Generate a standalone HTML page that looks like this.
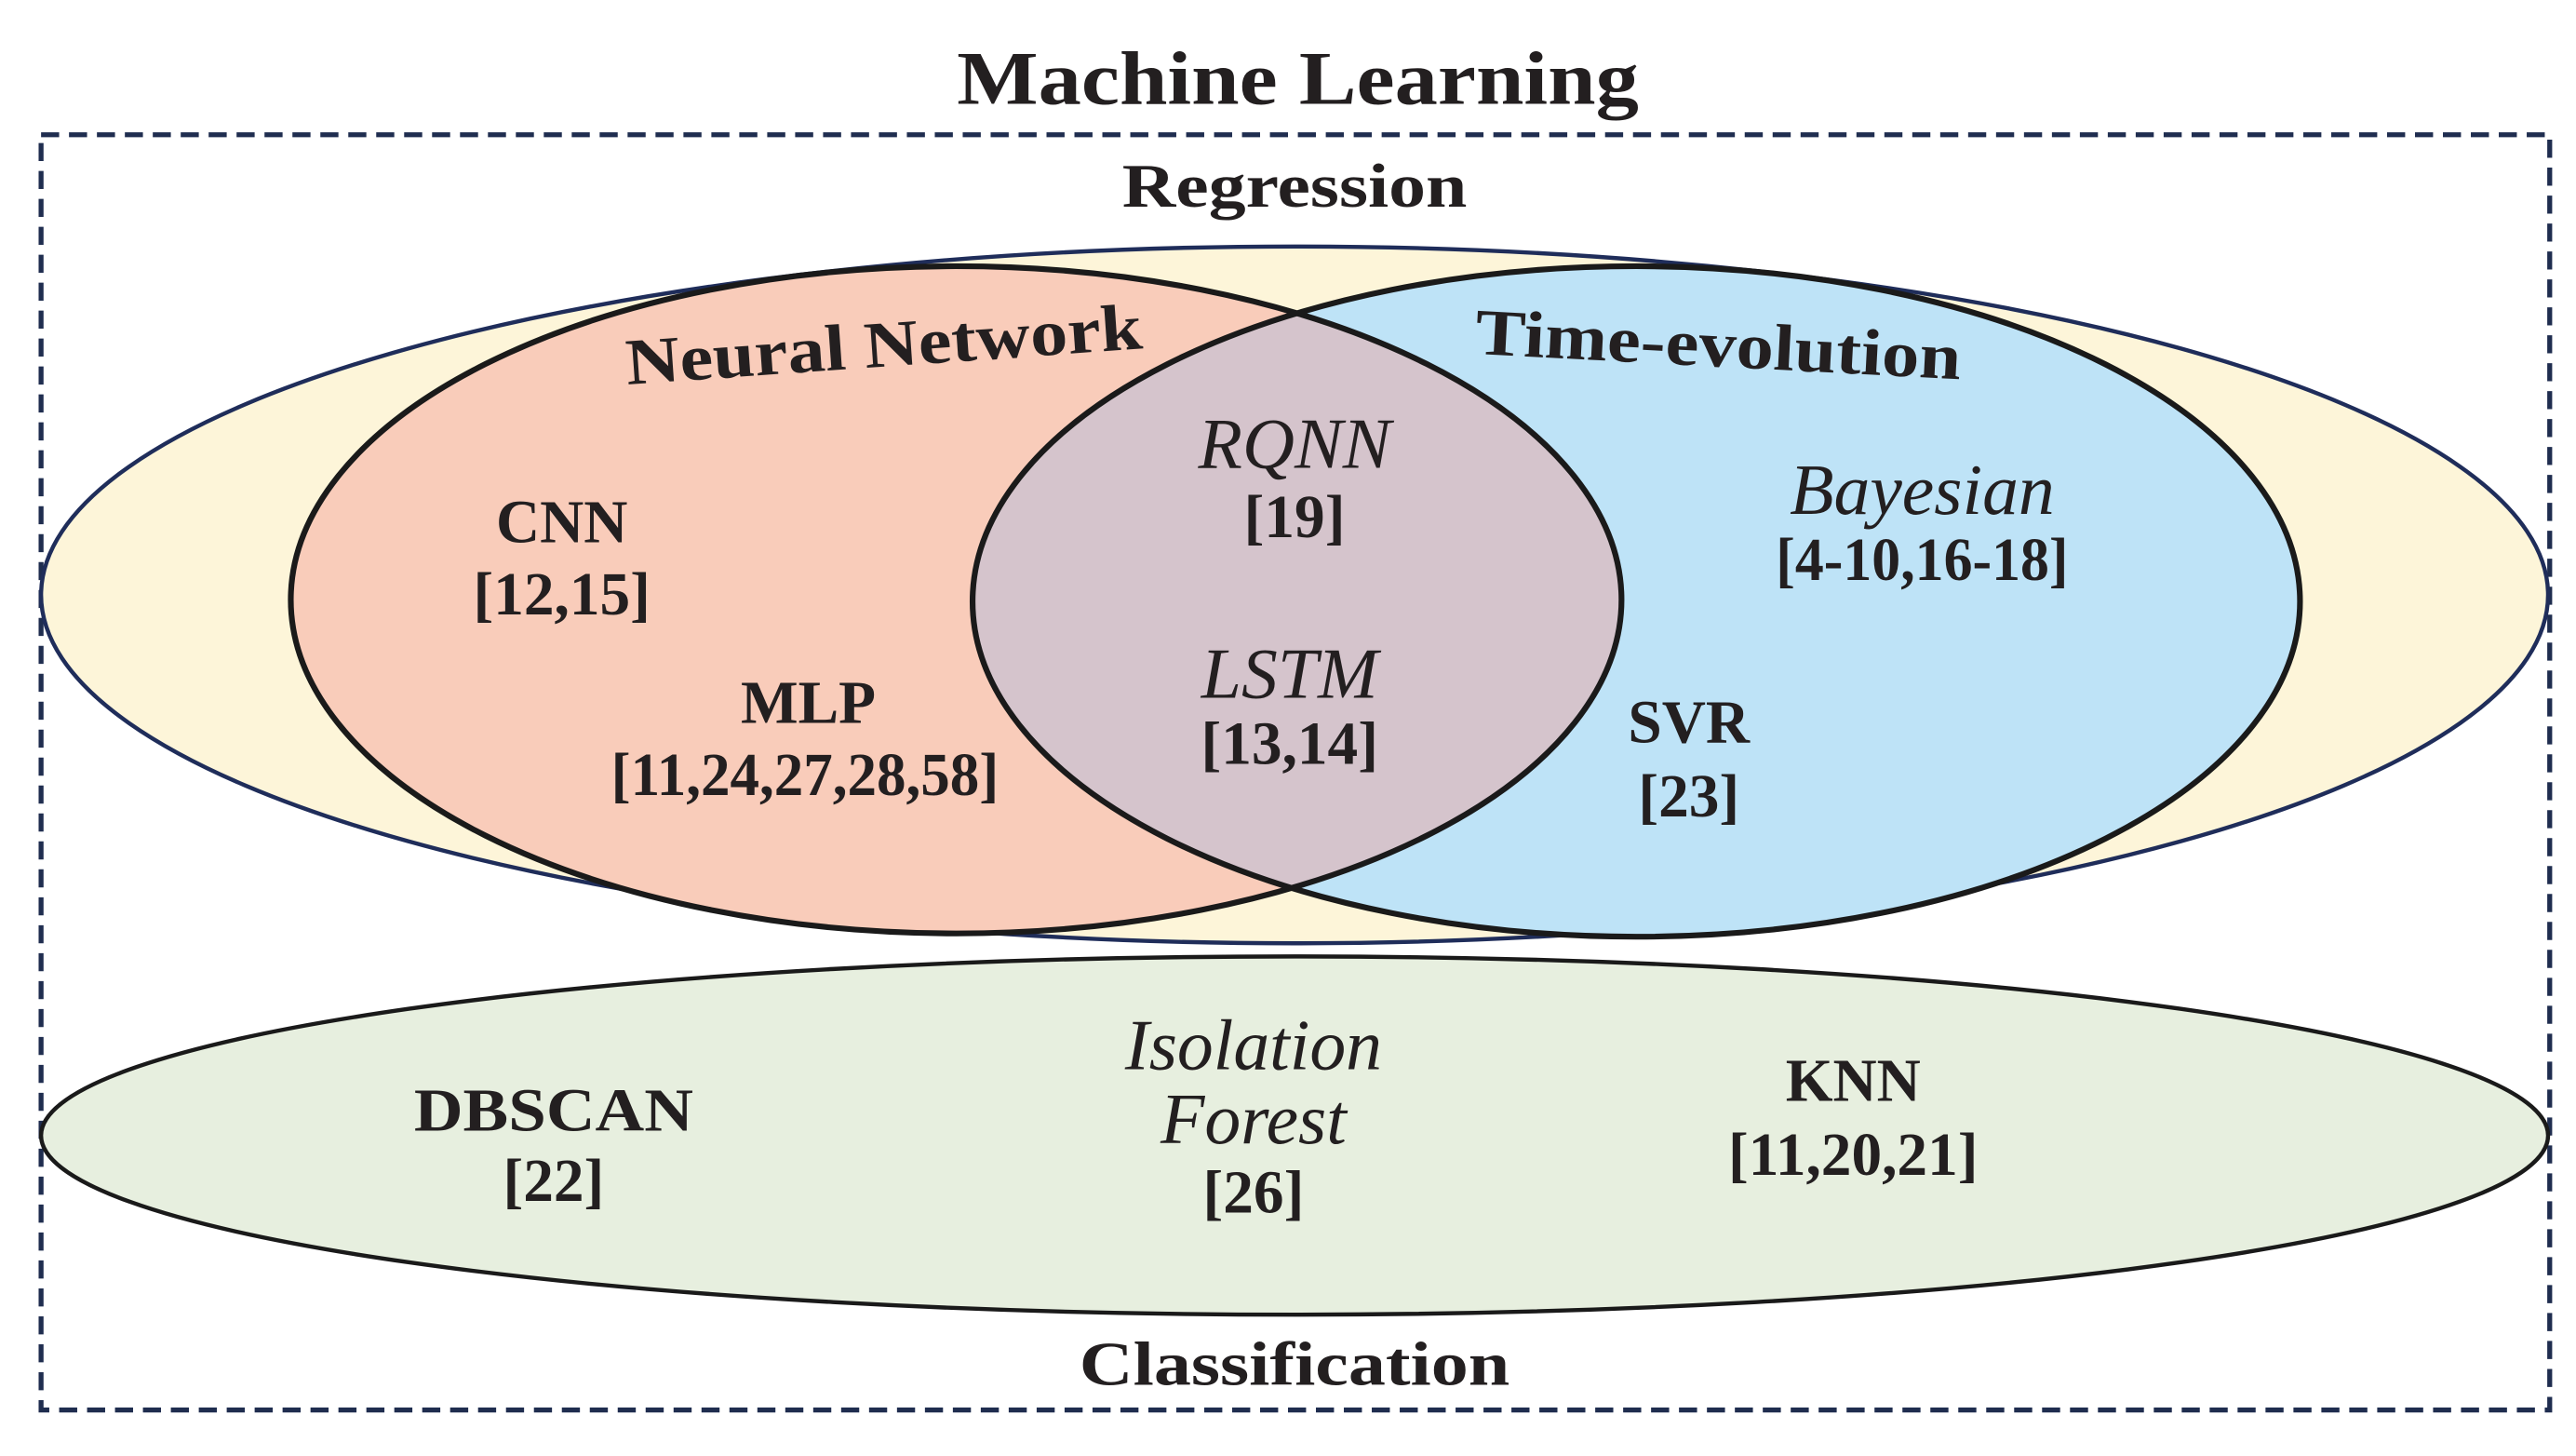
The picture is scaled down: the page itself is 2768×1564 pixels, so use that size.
<!DOCTYPE html>
<html><head><meta charset="utf-8"><style>
html,body{margin:0;padding:0;background:#fff;}
svg{display:block;}
text{font-family:"Liberation Serif",serif;fill:#231f20;}
</style></head><body>
<svg width="2768" height="1564" viewBox="0 0 1568 886" preserveAspectRatio="none" xmlns="http://www.w3.org/2000/svg">
<defs>
<clipPath id="cr"><ellipse cx="582" cy="365" rx="405" ry="203"/></clipPath>
</defs>
<text x="790" y="48" font-size="46" font-weight="bold" text-anchor="middle" dominant-baseline="central" textLength="415" lengthAdjust="spacingAndGlyphs">Machine Learning</text>
<rect x="25" y="82" width="1527" height="776" fill="none" stroke="#1f2d4f" stroke-width="3" stroke-dasharray="11 6"/>
<text x="788" y="113" font-size="38" font-weight="bold" text-anchor="middle" dominant-baseline="central" textLength="210" lengthAdjust="spacingAndGlyphs">Regression</text>
<ellipse cx="788" cy="362" rx="763" ry="212" fill="#fdf5d9" stroke="#1f2d5a" stroke-width="2.5"/>
<ellipse cx="582" cy="365" rx="405" ry="203" fill="#f9ccba"/>
<ellipse cx="996" cy="366" rx="404" ry="204" fill="#bee3f7"/>
<ellipse cx="996" cy="366" rx="404" ry="204" fill="#d5c4cc" clip-path="url(#cr)"/>
<ellipse cx="582" cy="365" rx="405" ry="203" fill="none" stroke="#1a1a1a" stroke-width="3.5"/>
<ellipse cx="996" cy="366" rx="404" ry="204" fill="none" stroke="#1a1a1a" stroke-width="3.5"/>
<ellipse cx="788" cy="691" rx="763" ry="109" fill="#e7efdf" stroke="#1a1a1a" stroke-width="2.5"/>
<text x="538" y="210" font-size="40" font-weight="bold" text-anchor="middle" dominant-baseline="central" transform="rotate(-4 538 210)" textLength="315" lengthAdjust="spacingAndGlyphs">Neural Network</text>
<text x="1046" y="210" font-size="40" font-weight="bold" text-anchor="middle" dominant-baseline="central" transform="rotate(3 1046 210)" textLength="296" lengthAdjust="spacingAndGlyphs">Time-evolution</text>
<g font-size="37" text-anchor="middle" dominant-baseline="central" font-weight="bold">
<text x="342" y="318">CNN</text>
<text x="342" y="362">[12,15]</text>
<text x="492" y="428">MLP</text>
<text x="490" y="472" textLength="236" lengthAdjust="spacingAndGlyphs">[11,24,27,28,58]</text>
<text x="788" y="270" font-style="italic" font-weight="normal" font-size="44">RQNN</text>
<text x="788" y="315">[19]</text>
<text x="785" y="410" font-style="italic" font-weight="normal" font-size="44">LSTM</text>
<text x="785" y="453">[13,14]</text>
<text x="1170" y="298" font-style="italic" font-weight="normal" font-size="44">Bayesian</text>
<text x="1170" y="341" textLength="178" lengthAdjust="spacingAndGlyphs">[4-10,16-18]</text>
<text x="1028" y="440">SVR</text>
<text x="1028" y="485">[23]</text>
<text x="337" y="676" textLength="170" lengthAdjust="spacingAndGlyphs">DBSCAN</text>
<text x="337" y="719">[22]</text>
<text x="763" y="636" font-style="italic" font-weight="normal" font-size="44">Isolation</text>
<text x="763" y="681" font-style="italic" font-weight="normal" font-size="44">Forest</text>
<text x="763" y="726">[26]</text>
<text x="1128" y="658">KNN</text>
<text x="1128" y="703">[11,20,21]</text>
</g>
<text x="788" y="830" font-size="38" font-weight="bold" text-anchor="middle" dominant-baseline="central" textLength="262" lengthAdjust="spacingAndGlyphs">Classification</text>
</svg>
</body></html>
